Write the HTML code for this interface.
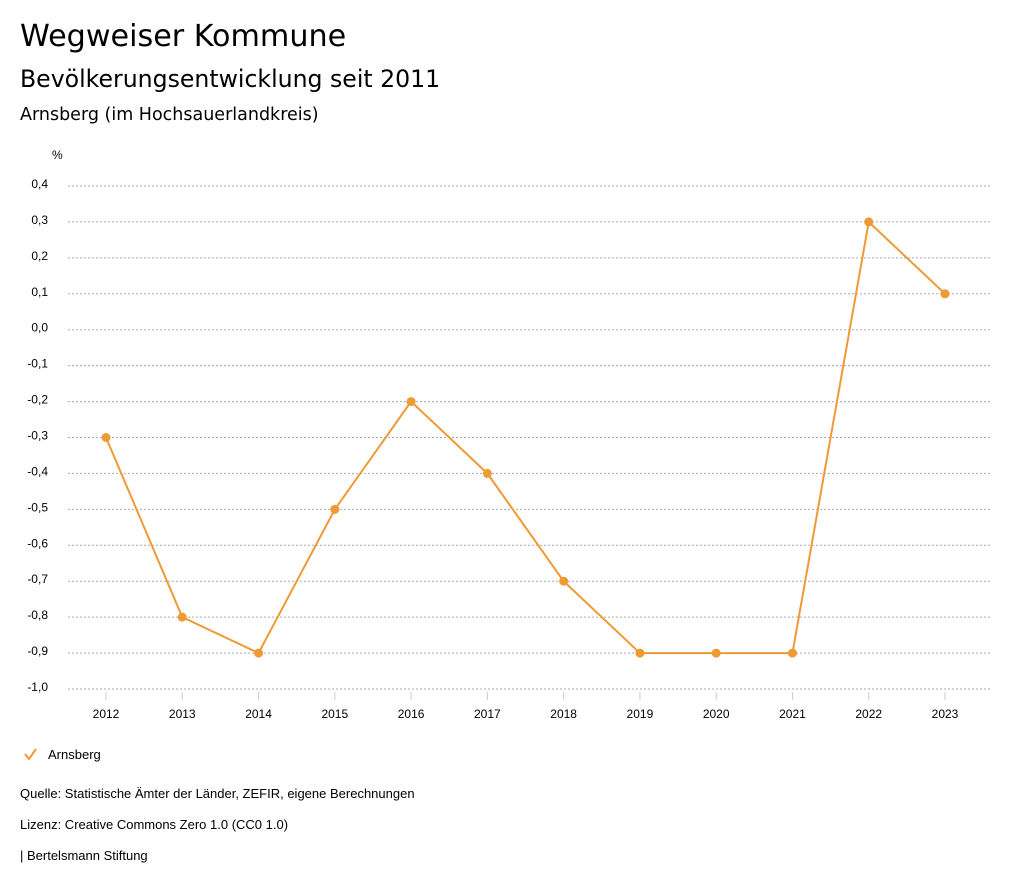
<!DOCTYPE html>
<html><head><meta charset="utf-8"><style>
body{margin:0;background:#fff;font-family:"Liberation Sans","DejaVu Sans",sans-serif;}
#root{position:relative;width:1024px;height:888px;overflow:hidden;}
.t{position:absolute;white-space:nowrap;color:#000;}
.dv{font-family:"DejaVu Sans",sans-serif;}
</style></head><body>
<div id="root">
<div class="t dv" style="left:20px;top:19px;font-size:30.2px;">Wegweiser Kommune</div>
<div class="t dv" style="left:20px;top:65px;font-size:23.6px;">Bevölkerungsentwicklung seit 2011</div>
<div class="t dv" style="left:20px;top:105px;font-size:17.5px;">Arnsberg (im Hochsauerlandkreis)</div>
<svg id="chart" width="1024" height="888" style="position:absolute;left:0;top:0"></svg>
<div class="t" style="left:20px;top:786px;font-size:13px;">Quelle: Statistische Ämter der Länder, ZEFIR, eigene Berechnungen</div>
<div class="t" style="left:20px;top:817px;font-size:13px;">Lizenz: Creative Commons Zero 1.0 (CC0 1.0)</div>
<div class="t" style="left:20px;top:848px;font-size:13px;">| Bertelsmann Stiftung</div>
</div>
<script>
const years=["2012","2013","2014","2015","2016","2017","2018","2019","2020","2021","2022","2023"];
const values=[-0.3,-0.8,-0.9,-0.5,-0.2,-0.4,-0.7,-0.9,-0.9,-0.9,0.3,0.1];
const yTicks=[0.4,0.3,0.2,0.1,0.0,-0.1,-0.2,-0.3,-0.4,-0.5,-0.6,-0.7,-0.8,-0.9,-1.0];
const NS="http://www.w3.org/2000/svg";
const svg=document.getElementById('chart');
const C="#ee9a35";
function y(v){return 186+(0.4-v)/1.4*503;}
function x(i){return 106+i*(945-106)/(years.length-1);}
function mk(t,a){const e=document.createElementNS(NS,t);for(const k in a)e.setAttribute(k,a[k]);svg.appendChild(e);return e;}
let u=mk('text',{x:52,y:159,'font-size':12,fill:'#000'});u.textContent='%';


yTicks.forEach(v=>{
 const g=mk('line',{x1:68,x2:990,y1:y(v),y2:y(v),stroke:'#aaa','stroke-dasharray':'2,2','stroke-width':1});
 
 
 const t=mk('text',{x:48,y:y(v)+2,'font-size':12,'text-anchor':'end',fill:'#000'});
 t.textContent=v.toFixed(1).replace('.',',');
 
 
});
years.forEach((yr,i)=>{
 const tk=mk('line',{x1:x(i),x2:x(i),y1:692,y2:700,stroke:'#ccc','stroke-width':1});
 
 
 const t=mk('text',{x:x(i),y:718,'font-size':12,'text-anchor':'middle',fill:'#000'});
 t.textContent=yr;
 
 
});
const ln=mk('polyline',{points:values.map((v,i)=>x(i)+','+y(v)).join(' '),fill:'none',stroke:C,'stroke-width':2});


values.forEach((v,i)=>{
 const p=mk('circle',{cx:x(i),cy:y(v),r:4.5,fill:C});
 
 
});
const chk=mk('polyline',{points:'25,754 29,759 36,749',fill:'none',stroke:C,'stroke-width':2});


const lt=mk('text',{x:48,y:759,'font-size':13,fill:'#000'});
lt.textContent='Arnsberg';


</script>
</body></html>
